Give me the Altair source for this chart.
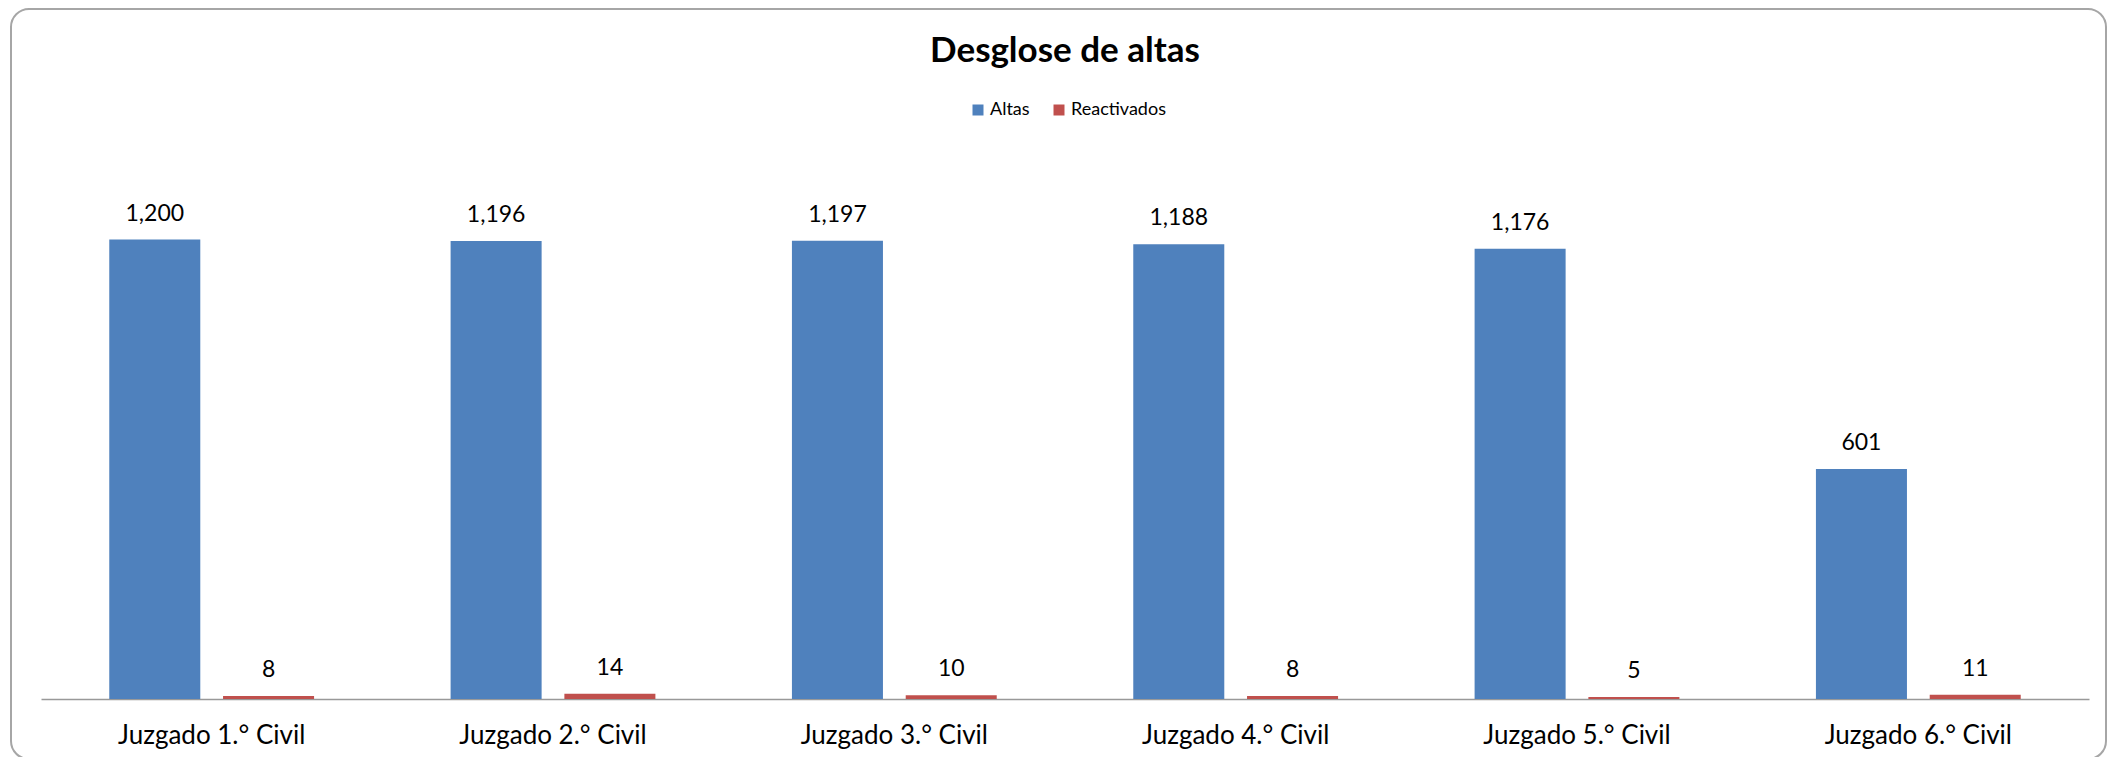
import altair as alt
import pandas as pd

titulo = "Desglose de altas"
categorias = ["Juzgado 1.° Civil", "Juzgado 2.° Civil", "Juzgado 3.° Civil",
              "Juzgado 4.° Civil", "Juzgado 5.° Civil", "Juzgado 6.° Civil"]
altas = [1200, 1196, 1197, 1188, 1176, 601]
reactivados = [8, 14, 10, 8, 5, 11]
series = ["Altas", "Reactivados"]
colores = ["#4F81BD", "#C0504D"]

rows = []
for c, a, r in zip(categorias, altas, reactivados):
    rows.append({"cat": c, "serie": "Altas", "valor": a})
    rows.append({"cat": c, "serie": "Reactivados", "valor": r})
df = pd.DataFrame(rows)

FONT = "Lato"

x = alt.X("cat:N", sort=categorias,
          scale=alt.Scale(paddingInner=0, paddingOuter=0),
          axis=alt.Axis(title=None, labelAngle=0, labelFont=FONT, labelFontSize=26,
                        labelColor="#000000", ticks=False, domainColor="#999999",
                        domainWidth=1.5, labelPadding=23, labelLimit=0))
xoff = alt.XOffset("serie:N", sort=series,
                   scale=alt.Scale(paddingInner=0.2, paddingOuter=0.6))
y = alt.Y("valor:Q", scale=alt.Scale(domain=[0, 1400]), axis=None)

bars = alt.Chart(df).mark_bar().encode(
    x=x, xOffset=xoff, y=y,
    color=alt.Color("serie:N", sort=series,
                    scale=alt.Scale(domain=series, range=colores),
                    legend=alt.Legend(title=None, orient="none", legendX=928, legendY=-62,
                                      direction="horizontal", symbolType="square",
                                      symbolSize=121, symbolStrokeWidth=0,
                                      labelFont=FONT, labelFontSize=18, labelColor="#000000",
                                      columnPadding=20, labelOffset=3))
)

labels = alt.Chart(df).mark_text(baseline="alphabetic", dy=-19, font=FONT,
                                 fontSize=23, color="#000000").encode(
    x=x, xOffset=xoff, y=y, text=alt.Text("valor:Q", format=",")
)

one = pd.DataFrame({"t": [titulo]})
frame = alt.Chart(one).mark_rect(
    fillOpacity=0, stroke="#a6a6a6", strokeWidth=2, cornerRadius=18
).encode(x=alt.value(-30), x2=alt.value(2065), y=alt.value(-154), y2=alt.value(596))

title = alt.Chart(one).mark_text(font=FONT, fontSize=35, fontWeight="bold",
                                 color="#000000", baseline="middle", align="center").encode(
    text="t:N", x=alt.value(1024), y=alt.value(-112)
)

chart = alt.layer(frame, bars, labels, title).properties(
    width=2048, height=536,
    padding={"left": 33, "top": 155, "right": 20, "bottom": 58},
    autosize=alt.AutoSizeParams(type="none"),
).configure(background="white").configure_view(stroke=None)

chart.save("out.html", embed_options={"renderer": "svg", "actions": False})
